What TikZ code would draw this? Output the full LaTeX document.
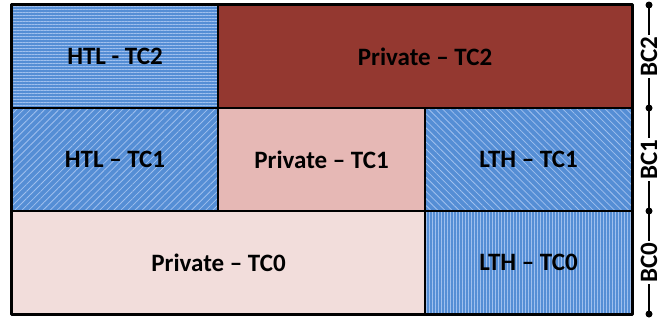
\documentclass[tikz,border=0pt]{standalone}
\usepackage{fontspec}
\setmainfont{Carlito}
\usetikzlibrary{patterns.meta}
\definecolor{cellblue}{RGB}{85,142,213}
\definecolor{stripeblue}{RGB}{160,192,238}
\definecolor{privdark}{RGB}{148,56,48}
\definecolor{privmid}{RGB}{230,184,181}
\definecolor{privlight}{RGB}{242,221,219}

\begin{document}
\begin{tikzpicture}[x=1pt,y=-1pt,line cap=round,line join=round,
    cell/.style={draw=black,line width=2pt,inner sep=0pt,minimum height=103pt,font=\bfseries\fontsize{25}{28}\selectfont},
    hlines/.style={preaction={fill=cellblue},pattern={Lines[angle=0,distance=3pt,line width=0.8pt]},pattern color=stripeblue},
    vlines/.style={preaction={fill=cellblue},pattern={Lines[angle=90,distance=3pt,line width=0.8pt]},pattern color=stripeblue},
    nelines/.style={preaction={fill=cellblue},pattern={Lines[angle=45,distance=5pt,line width=0.8pt]},pattern color=stripeblue},
    nwlines/.style={preaction={fill=cellblue},pattern={Lines[angle=-45,distance=5pt,line width=0.8pt]},pattern color=stripeblue},
    bclabel/.style={fill=white,rotate=90,inner sep=2pt,font=\bfseries\fontsize{25}{28}\selectfont}]
        \useasboundingbox (0,0) rectangle (668,324);
        % row TC2
        \node[cell,hlines,minimum width=206pt] (htltwo) at (115,56.5) {HTL - TC2};
        \node[cell,fill=privdark,minimum width=414pt] (privtwo) at (425,56.5) {Private -- TC2};
        % row TC1
        \node[cell,nelines,minimum width=206pt] (htlone) at (115,159.5) {HTL -- TC1};
        \node[cell,fill=privmid,minimum width=207pt] (privone) at (321.5,159.5) {Private -- TC1};
        \node[cell,nwlines,minimum width=207pt] (lthone) at (528.5,159.5) {LTH -- TC1};
        % row TC0
        \node[cell,fill=privlight,minimum width=413pt] (privzero) at (218.5,262.5) {Private -- TC0};
        \node[cell,vlines,minimum width=207pt] (lthzero) at (528.5,262.5) {LTH -- TC0};
        \draw[line width=2.5pt] (htltwo.north west) rectangle (lthzero.south east);
        % BC scale
        \foreach \i/\y in {3/5,2/108,1/211,0/314}
        \coordinate (bc\i) at (649,\y);
        \draw[line width=1.5pt] (bc3) -- node[bclabel] {BC2} (bc2) -- node[bclabel] {BC1} (bc1) -- node[bclabel] {BC0} (bc0);
        \foreach \i in {0,1,2,3}
        \fill (bc\i) circle (3.5pt);
      \end{tikzpicture}
\end{document}
